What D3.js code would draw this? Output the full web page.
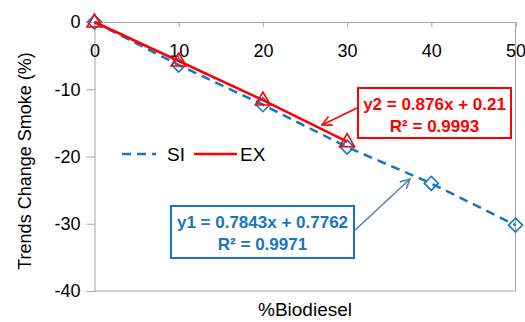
<!DOCTYPE html>
<html>
<head>
<meta charset="utf-8">
<script src="https://cdn.jsdelivr.net/npm/d3@7"></script>
<style>
  body { margin: 0; background: #fff; }
  text { font-family: "Liberation Sans", "DejaVu Sans", sans-serif; }
</style>
</head>
<body>
<div id="chart"></div>
<script>
// data
var biodiesel = [0, 10, 20, 30, 40, 50];
var siValues = [0, -6.4, -12.3, -18.6, -24.0, -30.2];
var exBiodiesel = [0, 10, 20, 30];
var exValues = [0, -5.8, -11.6, -17.8];
var xTicks = [0, 10, 20, 30, 40, 50];
var yTicks = [0, -10, -20, -30, -40];
var siLabel = ["y1 = 0.7843x + 0.7762", "R\u00b2 = 0.9971"];
var exLabel = ["y2 = 0.876x + 0.21", "R\u00b2 = 0.9993"];

var blue = "#1874c4", red = "#ff0000", grey = "#a6a6a6";

var margin = {top: 22, right: 10, bottom: 31, left: 94.5},
    width = 515.5 - margin.left,
    height = 291 - margin.top;

var x = d3.scaleLinear().domain([0, 50]).range([0, width]);
var y = d3.scaleLinear().domain([-40, 0]).range([height, 0]);

var svg = d3.select("#chart").append("svg")
    .attr("width", 525)
    .attr("height", 322);

var g = svg.append("g")
    .attr("transform", "translate(" + margin.left + "," + margin.top + ")");

svg.append("defs").selectAll("marker")
    .data([["arrRed", red], ["arrBlue", "#4f81bd"]])
  .enter().append("marker")
    .attr("id", function(d) { return d[0]; })
    .attr("viewBox", "0 0 10 10")
    .attr("refX", 9).attr("refY", 5)
    .attr("markerWidth", 8).attr("markerHeight", 8)
    .attr("orient", "auto")
  .append("path")
    .attr("d", "M1,1 L9,5 L1,9")
    .attr("fill", "none")
    .attr("stroke", function(d) { return d[1]; })
    .attr("stroke-width", 1.3);

// frame: right and bottom borders
g.append("path")
    .attr("d", "M" + width + ",0 V" + height + " H0")
    .attr("fill", "none")
    .attr("stroke", grey);

// plain hyphen for negatives, like the original
var fmt = function(d) { return String(d); };

// y axis
var yAxis = g.append("g")
    .call(d3.axisLeft(y).tickValues(yTicks).tickSize(8).tickPadding(6).tickFormat(fmt));
yAxis.select(".domain").attr("stroke", grey);
yAxis.selectAll(".tick line").attr("stroke", grey);
yAxis.selectAll("text").attr("font-size", 18).attr("fill", "#000");

// x axis at y = 0 (top)
var xAxis = g.append("g")
    .attr("transform", "translate(0," + y(0) + ")")
    .call(d3.axisBottom(x).tickValues(xTicks).tickSize(5).tickPadding(17).tickFormat(fmt));
xAxis.select(".domain").attr("stroke", grey);
xAxis.selectAll(".tick line").attr("stroke", grey);
xAxis.selectAll("text").attr("font-size", 18).attr("fill", "#000");

// SI series
var siData = biodiesel.map(function(d, i) { return [d, siValues[i]]; });
var exData = exBiodiesel.map(function(d, i) { return [d, exValues[i]]; });
var line = d3.line().x(function(d) { return x(d[0]); }).y(function(d) { return y(d[1]); });

g.append("path")
    .datum(siData)
    .attr("d", line)
    .attr("fill", "none")
    .attr("stroke", blue)
    .attr("stroke-width", 2.5)
    .attr("stroke-dasharray", "9,6");

g.selectAll(".si")
    .data(siData)
  .enter().append("path")
    .attr("class", "si")
    .attr("transform", function(d) { return "translate(" + x(d[0]) + "," + y(d[1]) + ")"; })
    .attr("d", "M0,-7 L7,0 L0,7 L-7,0 Z")
    .attr("fill", "none")
    .attr("stroke", blue)
    .attr("stroke-width", 1.6);

// EX series
g.append("path")
    .datum(exData)
    .attr("d", line)
    .attr("fill", "none")
    .attr("stroke", red)
    .attr("stroke-width", 2.5);

g.selectAll(".ex")
    .data(exData)
  .enter().append("path")
    .attr("class", "ex")
    .attr("transform", function(d) { return "translate(" + x(d[0]) + "," + y(d[1]) + ")"; })
    .attr("d", "M0,-8 L7.5,5 L-7.5,5 Z")
    .attr("fill", "none")
    .attr("stroke", red)
    .attr("stroke-width", 1.6);

// legend
var leg = svg.append("g").attr("transform", "translate(122,154)");
leg.append("line").attr("x1", 0).attr("x2", 34)
    .attr("stroke", blue).attr("stroke-width", 2.5).attr("stroke-dasharray", "9,6");
leg.append("text").attr("x", 45).attr("y", 7).attr("font-size", 19).text("SI");
leg.append("line").attr("x1", 72).attr("x2", 115)
    .attr("stroke", red).attr("stroke-width", 2.5);
leg.append("text").attr("x", 118).attr("y", 7).attr("font-size", 19).text("EX");

// annotation boxes
function note(x0, y0, w, h, color, lines) {
  var b = svg.append("g");
  b.append("rect").attr("x", x0).attr("y", y0).attr("width", w).attr("height", h)
      .attr("fill", "#fff").attr("stroke", color).attr("stroke-width", 2);
  b.selectAll("text").data(lines).enter().append("text")
      .attr("x", x0 + w / 2)
      .attr("y", function(d, i) { return y0 + 22 + i * 22; })
      .attr("text-anchor", "middle")
      .attr("font-size", 17)
      .attr("font-weight", "bold")
      .attr("fill", color)
      .text(function(d) { return d; });
}

svg.append("line").attr("x1", 357).attr("y1", 108).attr("x2", 322).attr("y2", 125)
    .attr("stroke", red).attr("stroke-width", 1.5).attr("marker-end", "url(#arrRed)");
svg.append("line").attr("x1", 353).attr("y1", 232).attr("x2", 410).attr("y2", 179)
    .attr("stroke", "#4f81bd").attr("stroke-width", 1.5).attr("marker-end", "url(#arrBlue)");

note(358, 88, 153, 50, red, exLabel);
note(171, 206, 183, 52, blue, siLabel);

// axis titles
svg.append("text")
    .attr("transform", "translate(31,161) rotate(-90)")
    .attr("text-anchor", "middle")
    .attr("font-size", 18)
    .text("Trends Change Smoke (%)");

svg.append("text")
    .attr("x", 305).attr("y", 316)
    .attr("text-anchor", "middle")
    .attr("font-size", 19)
    .text("%Biodiesel");
</script>
</body>
</html>
